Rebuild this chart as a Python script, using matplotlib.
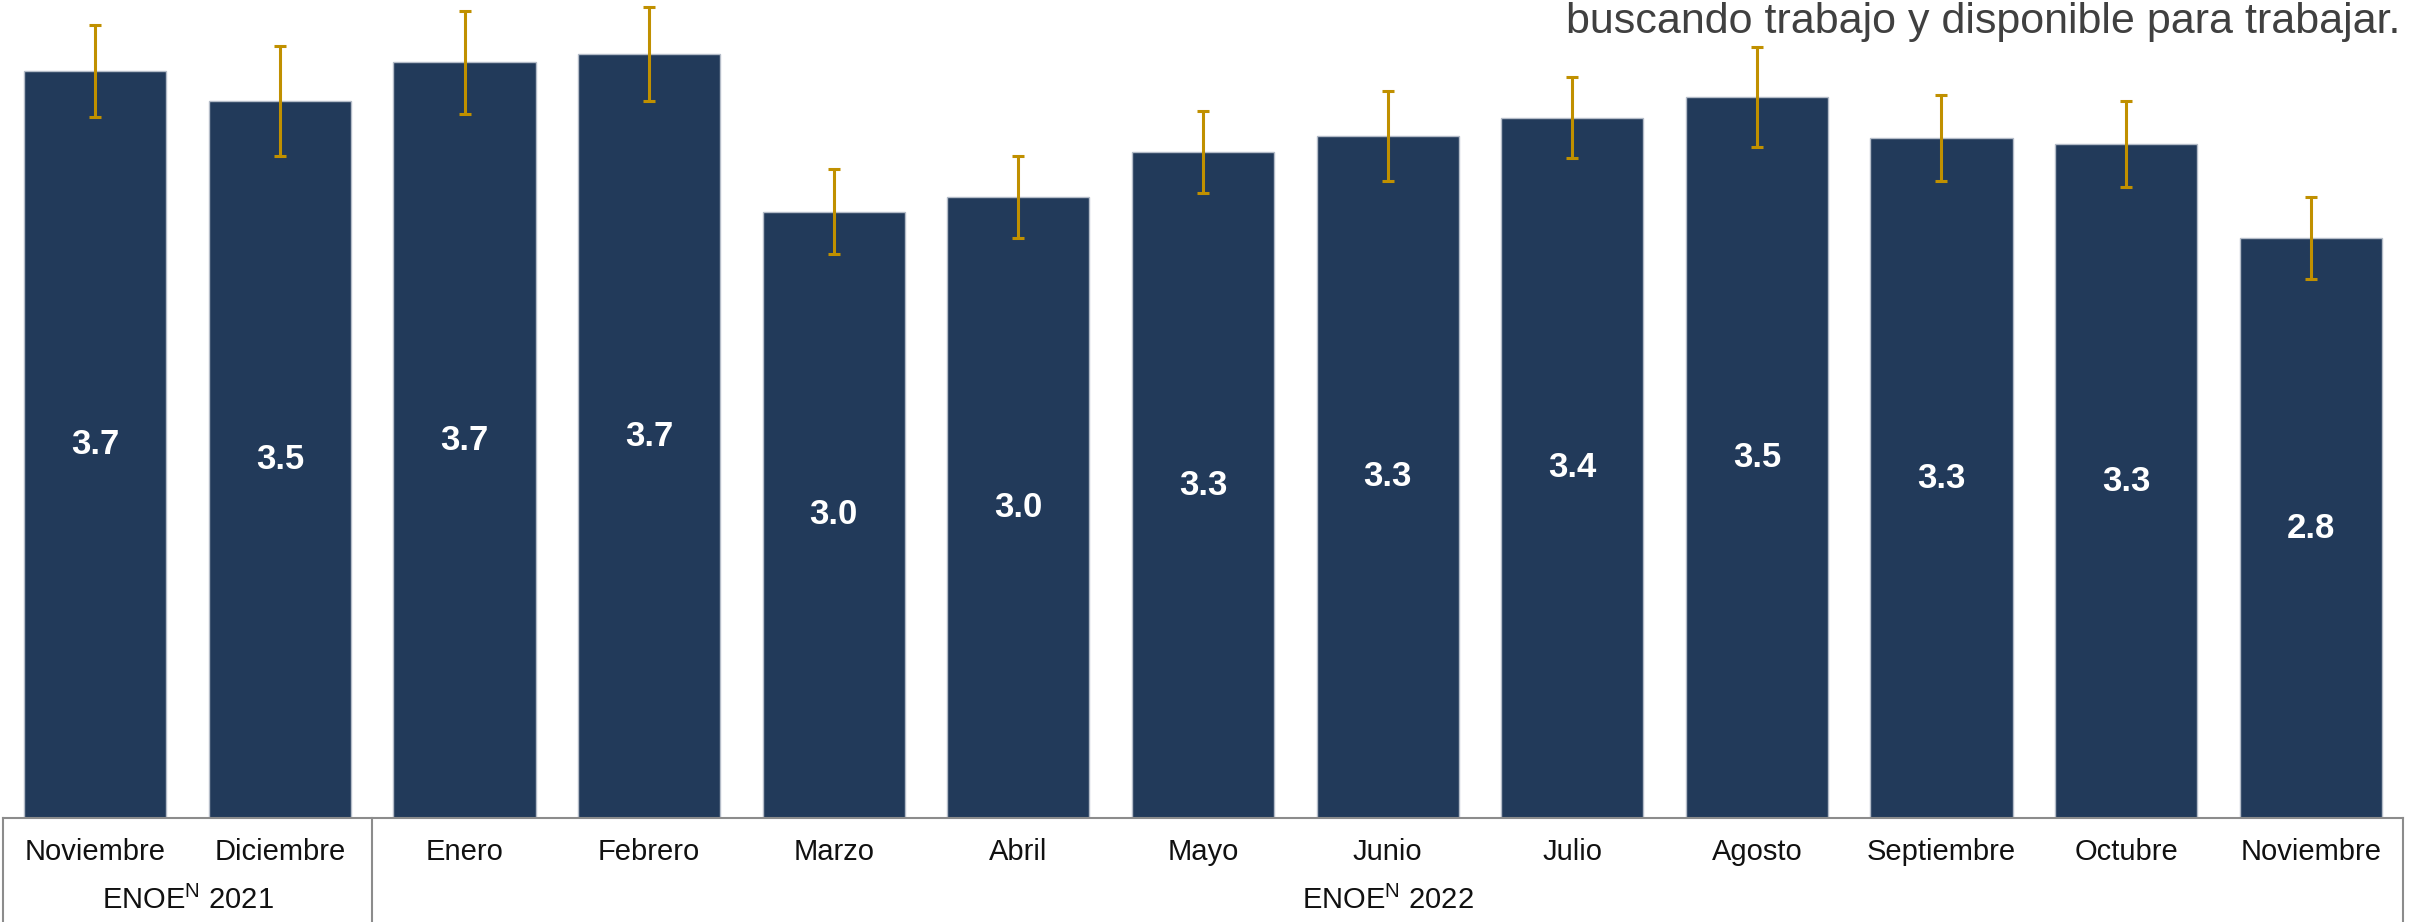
import numpy as np
import matplotlib
matplotlib.use('Agg')
import matplotlib.pyplot as plt

# Datos de la grafica
meses = ['Noviembre', 'Diciembre', 'Enero', 'Febrero', 'Marzo', 'Abril', 'Mayo',
         'Junio', 'Julio', 'Agosto', 'Septiembre', 'Octubre', 'Noviembre']
valores = [3.66, 3.51, 3.70, 3.74, 2.97, 3.04, 3.26, 3.34, 3.43, 3.53, 3.33, 3.30, 2.84]
errores = [0.225, 0.27, 0.25, 0.23, 0.21, 0.20, 0.20, 0.22, 0.20, 0.245, 0.21, 0.21, 0.20]
grupos = ['ENOE$^{\\mathrm{N}}$ 2021', 'ENOE$^{\\mathrm{N}}$ 2022']
grupo_tam = [2, 11]
titulo = 'buscando trabajo y disponible para trabajar.'

plt.rcParams['font.family'] = ['Liberation Sans', 'DejaVu Sans']
plt.rcParams['mathtext.fontset'] = 'custom'
plt.rcParams['mathtext.rm'] = 'Liberation Sans'

color_barra = '#223A5A'
color_error = '#C09000'
color_linea = '#8C8C8C'

fig = plt.figure(figsize=(24.12, 9.22), dpi=100)
ax = fig.add_axes([3 / 2412, 104 / 922, 2400 / 2412, 818 / 922])

x = np.arange(len(meses))
ax.bar(x, valores, width=0.77, color=color_barra, edgecolor='#B4BCC8', linewidth=1.0, zorder=2)
ax.errorbar(x, valores, yerr=errores, fmt='none', ecolor=color_error, elinewidth=2.2,
            capsize=4.5, capthick=2.2, zorder=3)

for xi, v in zip(x, valores):
    ax.text(xi, v / 2, f'{v:.1f}', ha='center', va='center', color='white',
            fontsize=25, fontweight='bold', zorder=4)

ax.set_xlim(-0.5, len(meses) - 0.5)
ax.set_ylim(0, 818 / 204.2)
ax.set_xticks([])
ax.set_yticks([])
for s in ['top', 'left', 'right']:
    ax.spines[s].set_visible(False)
ax.spines['bottom'].set_color(color_linea)
ax.spines['bottom'].set_linewidth(1.5)

# etiquetas de categoria tipo tabla debajo del eje
trans = ax.get_xaxis_transform()
for xi, m in zip(x, meses):
    ax.text(xi, -34 / 818, m, transform=trans, ha='center', va='center',
            fontsize=21, color='#111111', clip_on=False)

inicio = -0.5
bordes = [inicio]
for g, n in zip(grupos, grupo_tam):
    fin = inicio + n
    ax.text((inicio + fin) / 2, -82 / 818, g, transform=trans, ha='center', va='center',
            fontsize=21, color='#111111', clip_on=False)
    bordes.append(fin)
    inicio = fin
for b in bordes:
    ax.plot([b, b], [0, -104 / 818], transform=trans, color=color_linea, lw=1.5, clip_on=False)

fig.text(2400 / 2412, 1 - 33 / 922, titulo, ha='right', va='baseline', fontsize=31, color='#404040')

fig.savefig('out.png', dpi=100)
